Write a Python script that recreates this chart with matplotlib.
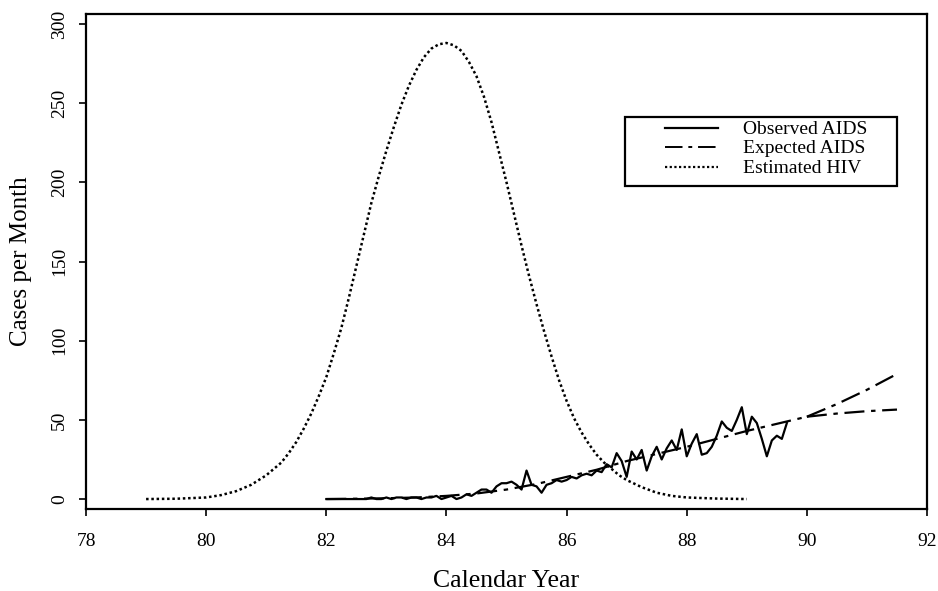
import numpy as np
import matplotlib
matplotlib.use("Agg")
import matplotlib.pyplot as plt
from matplotlib.patches import Rectangle
from matplotlib.lines import Line2D

plt.rcParams['font.family'] = ['Liberation Serif', 'DejaVu Serif']

# Estimated HIV infections (cases per month)
hiv_year = [79.0, 79.5, 80.0, 80.25, 80.5, 80.75,
            81.0, 81.125, 81.25, 81.375, 81.5, 81.625, 81.75, 81.875,
            82.0, 82.125, 82.25, 82.375, 82.5, 82.625, 82.75, 82.875,
            83.0, 83.125, 83.25, 83.375, 83.5, 83.625, 83.75, 83.875,
            84.0, 84.125, 84.25, 84.375, 84.5, 84.625, 84.75, 84.875,
            85.0, 85.125, 85.25, 85.375, 85.5, 85.625, 85.75, 85.875,
            86.0, 86.125, 86.25, 86.375, 86.5, 86.625, 86.75, 86.875,
            87.0, 87.25, 87.5, 87.75, 88.0, 88.5, 89.0]
hiv_value = [0, 0.2, 1, 2.5, 5, 9,
             15, 19, 23, 29, 36, 44.5, 54, 65,
             77, 92, 108, 127, 147, 167, 187, 204,
             220, 235, 249, 261, 271, 279, 284.5, 287.2,
             288, 286.5, 283, 276, 267, 254, 238, 219,
             200, 180, 160, 141, 123, 106, 90, 75,
             62, 51, 42, 34.5, 28, 23, 19, 15,
             12, 7.5, 4, 2, 1, 0.3, 0]

# Expected AIDS (fitted) and two projections beyond 1990
exp_year = [82.0, 82.5, 83.0, 83.5, 84.0, 84.5, 85.0, 85.5, 86.0, 86.5, 87.0, 87.5,
            88.0, 88.5, 89.0, 89.5, 90.0]
exp_value = [0, 0.2, 0.5, 1.0, 2.0, 3.5, 6, 9.5, 14, 18.5, 24, 28.5,
             33, 38, 43, 47.5, 52]
proj_year = [90.0, 90.5, 91.0, 91.5]
proj_high = [52, 60, 69, 79]
proj_low = [52, 54, 55.5, 56.5]

# Observed AIDS, monthly from 1982.0
obs_start = 82.0
obs_value = [0, 0, 0, 0, 0, 0, 0, 0, 0, 1, 0, 0,
             1, 0, 1, 1, 0, 1, 1, 0, 1, 1, 2, 0,
             1, 2, 0, 1, 3, 2, 4, 6, 6, 4, 8, 10,
             10, 11, 9, 6, 18, 9, 8, 4, 9, 10, 12, 11,
             12, 14, 13, 15, 16, 15, 18, 17, 22, 20, 29, 24,
             14, 30, 25, 31, 18, 27, 33, 25, 32, 37, 31, 44,
             27, 35, 41, 28, 29, 33, 40, 49, 45, 43, 50, 58,
             41, 52, 48, 38, 27, 37, 40, 38, 48]
obs_year = obs_start + np.arange(len(obs_value)) / 12.0

xticks = [78, 80, 82, 84, 86, 88, 90, 92]
yticks = [0, 50, 100, 150, 200, 250, 300]
legend_labels = ['Observed AIDS', 'Expected AIDS', 'Estimated HIV']

LS_OBS = '-'
LS_EXP = (0, (9, 3, 2, 3))
LS_HIV = (0, (1, 1.1))

fig = plt.figure(figsize=(9.38, 5.91), dpi=100)
ax = fig.add_axes([0.0917, 0.1387, 0.8966, 0.8376])

ax.plot(obs_year, obs_value, color='black', lw=1.6, ls=LS_OBS)
ax.plot(exp_year, exp_value, color='black', lw=1.6, ls=LS_EXP)
ax.plot(proj_year, proj_high, color='black', lw=1.6, ls=LS_EXP)
ax.plot(proj_year, proj_low, color='black', lw=1.6, ls=LS_EXP)
ax.plot(hiv_year, hiv_value, color='black', lw=1.8, ls=LS_HIV)

ax.set_xlim(78, 92)
ax.set_ylim(-6.3, 306.3)
ax.set_xticks(xticks)
ax.set_yticks(yticks)
ax.set_xticklabels([str(t) for t in xticks], fontsize=14)
ax.set_yticklabels([str(t) for t in yticks], fontsize=14, rotation=90, va='center')
ax.tick_params(axis='x', direction='out', length=5, width=1.2, pad=12)
ax.tick_params(axis='y', direction='out', length=5, width=1.2, pad=8)
for s in ax.spines.values():
    s.set_linewidth(1.6)

ax.set_xlabel('Calendar Year', fontsize=18.5, va='baseline')
ax.xaxis.set_label_coords(0.5, -0.1576)
ax.set_ylabel('Cases per Month', fontsize=18, labelpad=14)

# Legend box (drawn in axes coordinates)
ax.add_patch(Rectangle((0.641, 0.6525), 0.9643 - 0.641, 0.7919 - 0.6525,
                       transform=ax.transAxes, facecolor='white',
                       edgecolor='black', lw=1.6, zorder=5))
rows_y = [0.7677, 0.7293, 0.6889]
styles = [(LS_OBS, 1.6), (LS_EXP, 1.4), (LS_HIV, 1.6)]
for yy, lab, (ls, lw) in zip(rows_y, legend_labels, styles):
    ax.add_line(Line2D([0.688, 0.7515], [yy + 0.003, yy + 0.003], transform=ax.transAxes,
                       color='black', lw=lw, ls=ls, zorder=6))
    ax.text(0.7812, yy, lab, transform=ax.transAxes, fontsize=14,
            va='center', ha='left', zorder=6)

fig.savefig('out.png', dpi=100)
